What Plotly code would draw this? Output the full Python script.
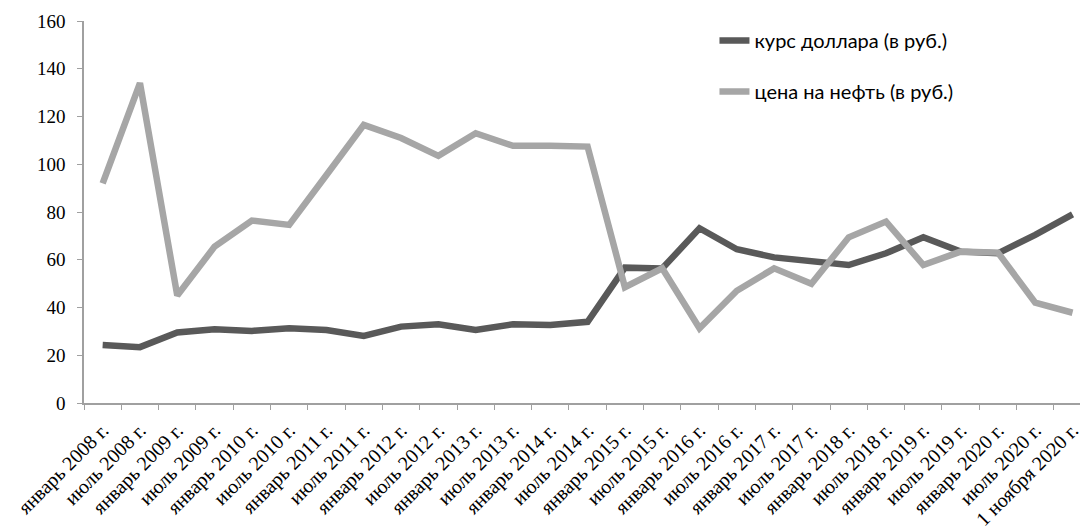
import plotly.graph_objects as go

categories = [
    "январь 2008 г.", "июль 2008 г.", "январь 2009 г.", "июль 2009 г.",
    "январь 2010 г.", "июль 2010 г.", "январь 2011 г.", "июль 2011 г.",
    "январь 2012 г.", "июль 2012 г.", "январь 2013 г.", "июль 2013 г.",
    "январь 2014 г.", "июль 2014 г.", "январь 2015 г.", "июль 2015 г.",
    "январь 2016 г.", "июль 2016 г.", "январь 2017 г.", "июль 2017 г.",
    "январь 2018 г.", "июль 2018 г.", "январь 2019 г.", "июль 2019 г.",
    "январь 2020 г.", "июль 2020 г.", "1 ноября 2020 г.",
]

usd_rate = [24.3, 23.4, 29.5, 30.9, 30.2, 31.3, 30.6, 28.1, 32.0, 33.0,
            30.6, 33.0, 32.7, 34.0, 56.7, 56.3, 73.2, 64.4, 61.0, 59.5,
            57.8, 62.7, 69.4, 63.4, 62.7, 70.4, 79.0]

oil_price = [92.0, 134.0, 45.0, 65.5, 76.4, 74.6, 95.5, 116.5, 111.0, 103.5,
             113.0, 107.7, 107.7, 107.4, 48.5, 56.4, 31.3, 47.0, 56.4, 49.9,
             69.4, 76.0, 57.8, 63.4, 63.0, 42.0, 37.8]

y_ticks = [0, 20, 40, 60, 80, 100, 120, 140, 160]

series_names = ["курс доллара (в руб.)", "цена на нефть (в руб.)"]

SERIF = "Liberation Serif"

fig = go.Figure()
fig.add_trace(go.Scatter(
    x=categories, y=usd_rate, mode="lines", name=series_names[0],
    legendgroup="a",
    line=dict(color="#595959", width=6.5),
))
fig.add_trace(go.Scatter(
    x=categories, y=oil_price, mode="lines", name=series_names[1],
    legendgroup="b",
    line=dict(color="#a6a6a6", width=6.5),
))

fig.update_layout(
    width=1080, height=531,
    margin=dict(l=84, r=0, t=21, b=128),
    paper_bgcolor="white", plot_bgcolor="white",
    showlegend=True,
    legend=dict(
        x=0.633, y=1.0, xanchor="left", yanchor="top",
        font=dict(family="Lato", size=20, color="#000000"),
        bgcolor="rgba(0,0,0,0)",
        tracegroupgap=22,
        itemwidth=30,
    ),
    xaxis=dict(
        type="category",
        automargin=False,
        tickangle=-45,
        tickfont=dict(family=SERIF, size=20, color="#000000"),
        ticklabelstandoff=6,
        showline=True, linecolor="#a0a0a0", linewidth=1.5,
        ticks="outside", ticklen=5, tickcolor="#a0a0a0",
        tickson="boundaries",
        showgrid=False, zeroline=False,
        range=[-0.5, 26.2],
    ),
    yaxis=dict(
        automargin=False,
        range=[0, 160],
        tickvals=y_ticks,
        tickfont=dict(family=SERIF, size=19, color="#000000"),
        ticklabelstandoff=8,
        showline=True, linecolor="#a0a0a0", linewidth=1.5,
        ticks="outside", ticklen=5, tickcolor="#a0a0a0",
        showgrid=False, zeroline=False,
    ),
)

fig.write_html("out.html")
